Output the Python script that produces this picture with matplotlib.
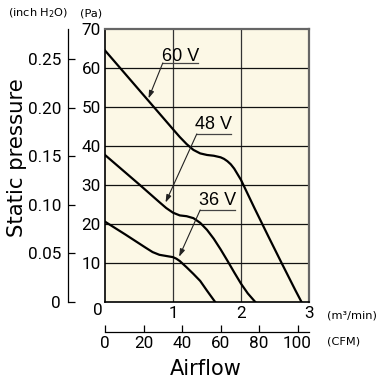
import numpy as np
import matplotlib
matplotlib.use('Agg')
import matplotlib.pyplot as plt

# fan curves: airflow [m3/min] vs static pressure [Pa]
airflow_60 = [0, 0.5, 1.0, 1.1, 1.2, 1.3, 1.4, 1.5, 1.6, 1.7, 1.75, 1.8, 1.85, 1.9, 2.0, 2.2, 2.4, 2.6, 2.8, 2.89]
pressure_60 = [64.5, 54.4, 44.3, 42.3, 40.5, 39.0, 38.1, 37.7, 37.5, 37.1, 36.7, 36.1, 35.3, 34.2, 31.3, 24.0, 16.9, 9.9, 3.0, 0]
airflow_48 = [0, 0.5, 0.8, 0.9, 1.0, 1.1, 1.2, 1.3, 1.4, 1.5, 1.6, 1.7, 1.8, 1.9, 2.0, 2.1, 2.21]
pressure_48 = [37.7, 30.2, 25.6, 24.1, 22.9, 22.2, 22.0, 21.5, 20.3, 18.5, 16.2, 13.5, 10.6, 7.6, 4.7, 2.2, 0]
airflow_36 = [0, 0.3, 0.6, 0.7, 0.8, 0.9, 1.0, 1.05, 1.1, 1.2, 1.3, 1.4, 1.5, 1.62]
pressure_36 = [20.6, 17.3, 13.9, 12.8, 12.1, 11.8, 11.5, 11.1, 10.5, 8.9, 7.2, 5.4, 2.9, 0]

labels = ['60 V', '48 V', '36 V']
label_pos = [(1.11, 63.0), (1.60, 45.6), (1.66, 26.1)]   # text centre
underline = [(0.85, 1.37, 61.3), (1.35, 1.85, 43.1), (1.40, 1.91, 23.6)]
arrow_tip = [(0.64, 52.2), (0.89, 25.5), (1.09, 11.6)]

pa_ticks = [10, 20, 30, 40, 50, 60, 70]
inch_ticks = [0, 0.05, 0.10, 0.15, 0.20, 0.25]
cfm_ticks = [0, 20, 40, 60, 80, 100]
m3_ticks = [1, 2, 3]

PA_PER_INCH = 249.089
CFM_PER_M3 = 35.3147

W, H = 379, 385
numf = dict(family=['Roboto', 'DejaVu Sans'], fontsize=12.3)
txtf = ['Liberation Sans', 'DejaVu Sans']
bg = '#fcf8e6'

fig = plt.figure(figsize=(W/100, H/100), dpi=100)

#main plot
ax = fig.add_axes([105/W, (H-302)/H, 204/W, 273/H])
ax.set_facecolor(bg)
ax.set_xlim(0, 3)
ax.set_ylim(0, 70)
for v in [1, 2]:
    ax.axvline(v, color='#333333', lw=0.9, zorder=1)
for p in [10, 20, 30, 40, 50, 60]:
    ax.axhline(p, color='#111111', lw=0.9, zorder=1)

for xs, ys in [(airflow_60, pressure_60), (airflow_48, pressure_48), (airflow_36, pressure_36)]:
    ax.plot(xs, ys, color='black', lw=1.6, solid_joinstyle='round', zorder=3)

for lab, (tx, ty), (u0, u1, uy), tip in zip(labels, label_pos, underline, arrow_tip):
    ax.text(tx, ty, lab, ha='center', va='center', fontsize=13, family=txtf, zorder=4)
    ax.plot([u0, u1], [uy, uy], color='#444444', lw=0.9, zorder=4)
    ax.annotate('', xy=tip, xytext=(u0, uy),
                arrowprops=dict(arrowstyle='-|>,head_length=0.45,head_width=0.15',
                                color='#222222', lw=0.8, shrinkA=0, shrinkB=0), zorder=4)

ax.spines['left'].set_color('black')
ax.spines['bottom'].set_color('black')
ax.spines['left'].set_linewidth(1.2)
ax.spines['bottom'].set_linewidth(1.2)
ax.spines['top'].set_color('#666666')
ax.spines['right'].set_color('#666666')
ax.spines['top'].set_linewidth(1.6)
ax.spines['right'].set_linewidth(1.6)

ax.set_yticks(pa_ticks)
ax.set_yticklabels([str(t) for t in pa_ticks], **numf)
ax.set_xticks(m3_ticks)
ax.set_xticklabels([str(t) for t in m3_ticks], **numf)
ax.tick_params(length=0, pad=3)
ax.text(-0.03, -2.3, '0', ha='right', va='center', **numf)

#inch H2O axis
axi = fig.add_axes([68/W, (H-302)/H, 0.001, 273/H])
axi.set_ylim(0, 70/PA_PER_INCH)
axi.set_xticks([])
for s in ['top', 'right', 'bottom']:
    axi.spines[s].set_visible(False)
axi.spines['left'].set_linewidth(0.9)
axi.patch.set_visible(False)
axi.set_yticks(inch_ticks)
axi.set_yticklabels(['0', '0.05', '0.10', '0.15', '0.20', '0.25'], **numf)
axi.tick_params(axis='y', direction='in', length=5, width=0.9, pad=5)

#CFM axis
axc = fig.add_axes([105/W, (H-332)/H, 204/W, 0.001])
axc.set_xlim(0, 3*CFM_PER_M3)
axc.set_yticks([])
for s in ['top', 'right', 'left']:
    axc.spines[s].set_visible(False)
axc.spines['bottom'].set_linewidth(0.9)
axc.patch.set_visible(False)
axc.set_xticks(cfm_ticks)
axc.set_xticklabels([str(t) for t in cfm_ticks], **numf)
axc.tick_params(axis='x', direction='in', length=5, width=0.9, pad=3)

#unit and axis labels
fig.text(8/W, 1-13/H, '(inch H$_2$O)', fontsize=8.2, va='center', ha='left')
fig.text(80/W, 1-13/H, '(Pa)', fontsize=8.2, va='center', ha='left')
fig.text(327/W, 1-315/H, '(m³/min)', fontsize=8.2, va='center', ha='left')
fig.text(327/W, 1-342/H, '(CFM)', fontsize=8.2, va='center', ha='left')
fig.text(17/W, 1-158/H, 'Static pressure', fontsize=15.3, rotation=90, va='center', ha='center')
fig.text(206/W, 1-369/H, 'Airflow', fontsize=15, va='center', ha='center')

plt.savefig('out.png', dpi=100)
